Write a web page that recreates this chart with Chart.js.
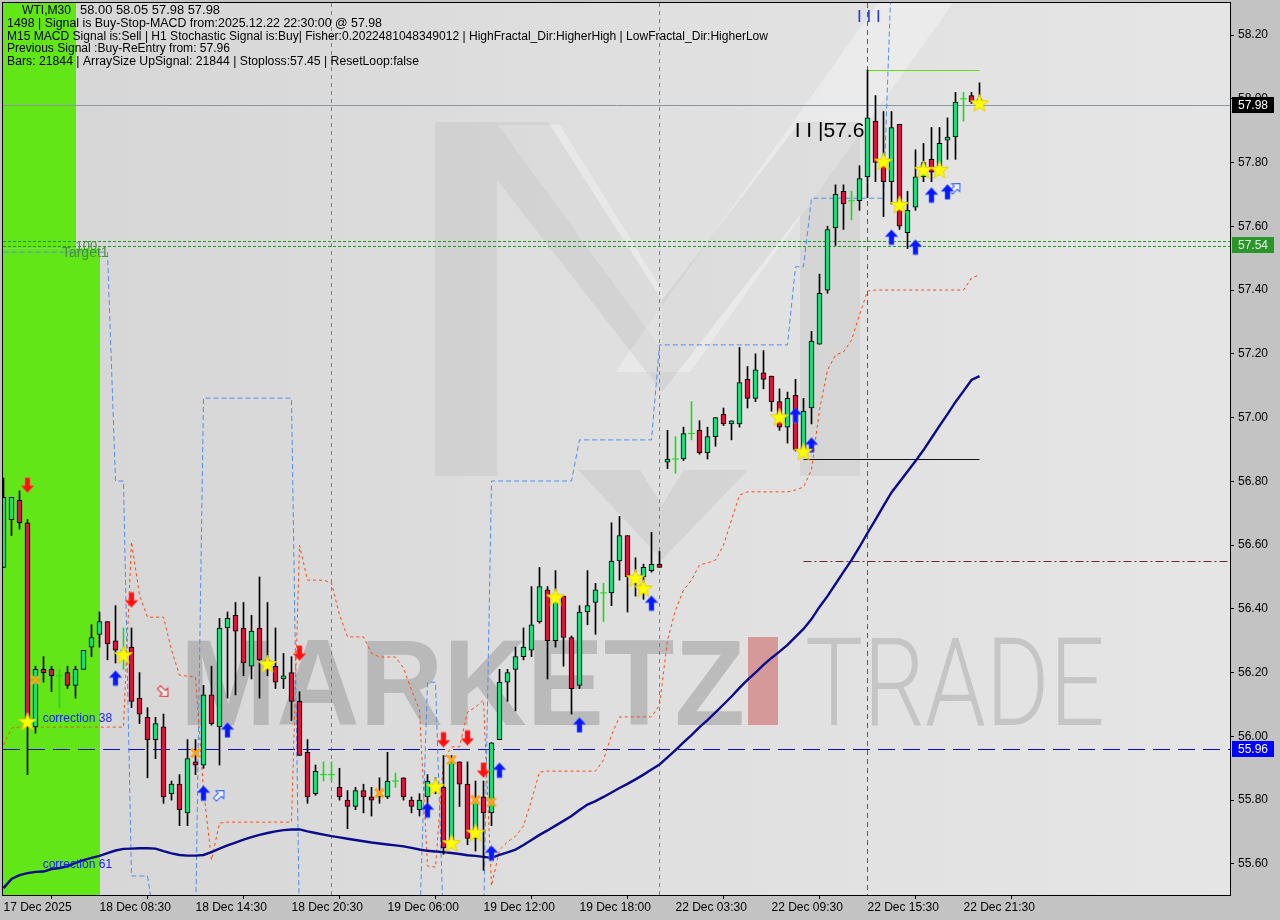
<!DOCTYPE html>
<html>
<head>
<meta charset="utf-8">
<title>WTI,M30</title>
<script src="https://cdn.jsdelivr.net/npm/chart.js@4.4.1/dist/chart.umd.min.js"></script>
<style>
  html, body { margin: 0; padding: 0; background: #c3c3c3; }
  canvas { display: block; }
</style>
</head>
<body>
<canvas id="chart" width="1280" height="920"></canvas>
<script>
// x axis: one tick every 12 bars (M30), labels as printed by the terminal
const xTickBars = [0, 12, 24, 36, 48, 60, 72, 84, 96, 108, 120];
const xTickLabels = ['17 Dec 2025', '18 Dec 08:30', '18 Dec 14:30', '18 Dec 20:30', '19 Dec 06:00',
  '19 Dec 12:00', '19 Dec 18:00', '22 Dec 03:30', '22 Dec 09:30', '22 Dec 15:30', '22 Dec 21:30'];
const yTicks = [55.60, 55.80, 56.00, 56.20, 56.40, 56.60, 56.80, 57.00, 57.20, 57.40, 57.60, 57.80, 58.00, 58.20];

// candles, bar 0 .. 122
const opens = [
  56.53, 56.68, 56.74, 56.67, 56.03, 56.21, 56.21, 56.19, 56.20, 56.16,
  56.21, 56.28, 56.32, 56.36, 56.30, 56.27, 56.28, 56.12, 56.06, 55.99,
  56.03, 55.82, 55.85, 55.76, 55.92, 55.91, 56.13, 56.03, 56.34, 56.38,
  56.34, 56.22, 56.34, 56.24, 56.22, 56.18, 56.20, 56.11, 55.95, 55.82,
  55.88, 55.88, 55.84, 55.80, 55.78, 55.83, 55.81, 55.81, 55.81, 55.86,
  55.87, 55.80, 55.77, 55.81, 55.85, 55.84, 55.675, 55.92, 55.85, 55.68,
  55.81, 55.76, 55.99, 56.17, 56.21, 56.25, 56.27, 56.36, 56.46, 56.30,
  56.44, 56.31, 56.16, 56.39, 56.42, 56.45, 56.45, 56.55, 56.63, 56.50,
  56.50, 56.52, 56.54, 56.86, 56.87, 56.87, 56.95, 56.96, 56.89, 56.94,
  57.01, 56.98, 56.98, 57.12, 57.06, 57.14, 57.13, 57.05, 56.97, 57.07,
  56.90, 57.03, 57.23, 57.40, 57.595, 57.71, 57.68, 57.68, 57.755, 57.93,
  57.80, 57.74, 57.92, 57.58, 57.66, 57.755, 57.81, 57.79, 57.87, 57.88,
  58.00, 58.01, 58.00];
const highs = [
  56.81, 56.75, 56.77, 56.68, 56.22, 56.25, 56.22, 56.21, 56.22, 56.22,
  56.27, 56.35, 56.39, 56.36, 56.41, 56.34, 56.34, 56.20, 56.09, 56.06,
  56.07, 55.86, 55.88, 55.99, 55.99, 56.16, 56.22, 56.37, 56.39, 56.42,
  56.42, 56.38, 56.50, 56.42, 56.34, 56.26, 56.25, 56.14, 55.99, 55.91,
  55.92, 55.92, 55.90, 55.83, 55.84, 55.85, 55.84, 55.87, 55.95, 55.885,
  55.87, 55.81, 55.82, 55.88, 55.87, 55.94, 55.94, 55.92, 55.92, 55.86,
  55.86, 55.98, 56.21, 56.21, 56.28, 56.34, 56.47, 56.53, 56.47, 56.52,
  56.44, 56.315, 56.41, 56.52, 56.48, 56.48, 56.67, 56.69, 56.63, 56.56,
  56.54, 56.64, 56.58, 56.96, 56.94, 56.97, 57.05, 56.99, 56.97, 57.00,
  57.03, 56.99, 57.22, 57.16, 57.20, 57.21, 57.13, 57.09, 57.08, 57.12,
  57.06, 57.27, 57.45, 57.60, 57.73, 57.73, 57.71, 57.79, 58.09, 58.01,
  57.96, 57.96, 57.92, 57.71, 57.84, 57.86, 57.91, 57.91, 57.94, 58.02,
  58.02, 58.02, 58.05];
const lows = [
  56.53, 56.63, 56.65, 55.88, 56.01, 56.17, 56.14, 56.09, 56.15, 56.12,
  56.21, 56.25, 56.28, 56.24, 56.23, 56.21, 56.09, 56.04, 55.87, 55.93,
  55.79, 55.80, 55.72, 55.72, 55.88, 55.90, 56.035, 55.91, 56.12, 56.13,
  56.19, 56.18, 56.12, 56.19, 56.15, 56.15, 56.05, 55.94, 55.79, 55.815,
  55.86, 55.86, 55.80, 55.71, 55.77, 55.76, 55.75, 55.79, 55.805, 55.84,
  55.80, 55.76, 55.75, 55.75, 55.82, 55.63, 55.66, 55.78, 55.66, 55.64,
  55.58, 55.72, 55.99, 56.11, 56.08, 56.24, 56.25, 56.355, 56.18, 56.28,
  56.22, 56.07, 56.15, 56.35, 56.32, 56.36, 56.41, 56.49, 56.39, 56.44,
  56.43, 56.515, 56.53, 56.84, 56.825, 56.865, 56.93, 56.885, 56.87, 56.91,
  56.975, 56.93, 56.97, 57.03, 57.05, 57.09, 57.02, 56.96, 56.92, 56.895,
  56.89, 56.98, 57.23, 57.39, 57.54, 57.59, 57.62, 57.65, 57.69, 57.74,
  57.63, 57.67, 57.59, 57.53, 57.65, 57.74, 57.74, 57.77, 57.81, 57.81,
  57.93, 57.985, 57.98];
const closes = [
  56.75, 56.75, 56.67, 56.03, 56.21, 56.20, 56.19, 56.19, 56.16, 56.21,
  56.27, 56.31, 56.36, 56.29, 56.27, 56.27, 56.11, 56.07, 55.99, 56.04,
  55.81, 55.85, 55.77, 55.93, 55.91, 56.13, 56.04, 56.34, 56.37, 56.33,
  56.23, 56.33, 56.24, 56.22, 56.17, 56.19, 56.11, 55.94, 55.81, 55.89,
  55.88, 55.88, 55.81, 55.78, 55.83, 55.81, 55.80, 55.82, 55.86, 55.86,
  55.81, 55.78, 55.80, 55.86, 55.84, 55.65, 55.92, 55.85, 55.68, 55.805,
  55.76, 55.98, 56.17, 56.20, 56.25, 56.28, 56.35, 56.47, 56.30, 56.43,
  56.31, 56.15, 56.39, 56.41, 56.46, 56.45, 56.55, 56.63, 56.50, 56.48,
  56.53, 56.54, 56.53, 56.87, 56.87, 56.95, 56.95, 56.89, 56.94, 57.00,
  56.98, 56.99, 57.11, 57.06, 57.15, 57.12, 57.05, 56.97, 57.06, 56.90,
  57.02, 57.24, 57.39, 57.59, 57.70, 57.67, 57.68, 57.75, 57.94, 57.80,
  57.74, 57.91, 57.60, 57.65, 57.755, 57.80, 57.77, 57.86, 57.88, 57.99,
  58.00, 57.99, 57.98];

// navy moving average
const maLine = [
  55.524, 55.553, 55.565, 55.571, 55.575, 55.576, 55.584, 55.587, 55.592, 55.603,
  55.612, 55.619, 55.625, 55.634, 55.642, 55.647, 55.648, 55.649, 55.649, 55.648,
  55.640, 55.633, 55.628, 55.626, 55.626, 55.628, 55.637, 55.648, 55.658, 55.667,
  55.676, 55.684, 55.691, 55.697, 55.702, 55.706, 55.708, 55.708, 55.702, 55.697,
  55.692, 55.687, 55.683, 55.679, 55.675, 55.671, 55.667, 55.664, 55.661, 55.658,
  55.655, 55.650, 55.645, 55.641, 55.639, 55.637, 55.634, 55.631, 55.627, 55.625,
  55.622, 55.619, 55.628, 55.636, 55.645, 55.659, 55.675, 55.691, 55.705, 55.720,
  55.735, 55.750, 55.769, 55.786, 55.797, 55.810, 55.824, 55.838, 55.851, 55.865,
  55.880, 55.896, 55.912, 55.934, 55.957, 55.981, 56.004, 56.029, 56.051, 56.075,
  56.100, 56.125, 56.152, 56.177, 56.200, 56.224, 56.246, 56.266, 56.287, 56.312,
  56.337, 56.368, 56.406, 56.440, 56.478, 56.516, 56.553, 56.594, 56.638, 56.680,
  56.723, 56.765, 56.798, 56.831, 56.864, 56.898, 56.936, 56.974, 57.011, 57.049,
  57.083, 57.118, 57.130];

// orange trailing stop (dotted)
const stopLine = [
  55.973, 56.026, 56.029, 56.029, 56.029, 56.029, 56.029, 56.029, 56.029, 56.029,
  56.029, 56.029, 56.029, 56.029, 56.029, 56.029, 56.610, 56.443, 56.374, 56.374,
  56.374, 56.271, 56.192, 56.189, 56.186, 55.832, 55.612, 55.728, 55.731, 55.731,
  55.731, 55.731, 55.731, 55.731, 55.731, 55.731, 55.731, 56.600, 56.490, 56.490,
  56.490, 56.481, 56.381, 56.312, 56.312, 56.312, 56.261, 56.249, 56.249, 56.249,
  56.214, 56.145, 56.083, 55.593, 55.590, 55.926, 55.967, 55.967, 56.076, 56.092,
  56.114, 55.531, 55.644, 55.669, 55.687, 55.719, 55.800, 55.888, 55.891, 55.891,
  55.891, 55.891, 55.891, 55.891, 55.891, 55.926, 56.004, 56.061, 56.061, 56.061,
  56.061, 56.061, 56.098, 56.302, 56.396, 56.459, 56.490, 56.538, 56.544, 56.553,
  56.600, 56.679, 56.757, 56.767, 56.767, 56.767, 56.767, 56.767, 56.767, 56.773,
  56.782, 56.836, 57.024, 57.149, 57.196, 57.206, 57.243, 57.322, 57.397, 57.400,
  57.400, 57.400, 57.400, 57.400, 57.400, 57.400, 57.400, 57.400, 57.400, 57.400,
  57.400, 57.438, 57.447];

// blue step channel (dashed)
const channelLine = [
  57.519, 57.519, 57.519, 57.519, 57.519, 57.519, 57.519, 57.519, 57.519, 57.519,
  57.519, 57.519, 57.519, 57.519, 56.801, 56.801, 55.562, 55.562, 55.562, 55.40,
  55.40, 55.40, 55.40, 55.40, 55.40, 57.061, 57.061, 57.061, 57.061, 57.061,
  57.061, 57.061, 57.061, 57.061, 57.061, 57.061, 57.061, 55.40, 55.40, 55.40,
  55.40, 55.40, 55.40, 55.40, 55.40, 55.40, 55.40, 55.40, 55.40, 55.40,
  55.40, 55.40, 55.40, 56.170, 56.170, 55.40, 55.40, 55.40, 55.40, 55.40,
  55.40, 56.801, 56.801, 56.801, 56.801, 56.801, 56.801, 56.801, 56.801, 56.801,
  56.801, 56.801, 56.930, 56.930, 56.930, 56.930, 56.930, 56.930, 56.930, 56.930,
  56.930, 56.930, 57.228, 57.228, 57.228, 57.228, 57.228, 57.228, 57.228, 57.228,
  57.228, 57.228, 57.228, 57.228, 57.228, 57.228, 57.228, 57.228, 57.228, 57.473,
  57.473, 57.688, 57.688, 57.688, 57.688, 57.688, 57.688, 57.688, 57.688, 57.688,
  57.688, 58.40, 58.40, 58.40, 58.40, 58.40, 58.40, 58.40, 58.40, 58.40,
  58.40, 58.40, 58.40];

// signal markers: bar index + price
const starBars = [3, 15, 33, 54, 56, 59, 69, 79, 80, 97, 100, 110, 112, 115, 117, 122];
const starPrices = [56.046, 56.255, 56.227, 55.842, 55.665, 55.698, 56.436, 56.496, 56.464, 57.001, 56.893, 57.803, 57.667, 57.777, 57.777, 57.986];
const buyBars = [14, 25, 28, 53, 61, 62, 72, 81, 99, 101, 111, 114, 116, 118];
const buyPrices = [56.183, 55.822, 56.020, 55.769, 55.634, 55.894, 56.036, 56.418, 57.008, 56.914, 57.566, 57.535, 57.698, 57.708];
const sellBars = [3, 16, 37, 55, 58, 60];
const sellPrices = [56.788, 56.428, 56.261, 55.989, 55.995, 55.894];
const reBuyBars = [27, 119];
const reBuyPrices = [55.816, 57.720];
const reSellBars = [20];
const reSellPrices = [56.140];
const exitBars = [4, 24, 47, 56, 59, 61];
const exitPrices = [56.177, 55.948, 55.822, 55.926, 55.800, 55.794];

// levels
const bidPrice = 57.98;
const targetLevels = [57.554, 57.538];
const correctionLevel = 55.96;
const pivotLevel = 56.55, pivotFrom = 100;
const fractalHigh = 58.09, fractalHighFrom = 108;
const fractalLow = 56.87, fractalLowFrom = 100;
const separatorBars = [41, 82];
const signalBar = 108;
const zoneSplitPrice = 57.53, zoneTopEnd = 9, zoneBottomEnd = 12;

const infoLines = [
  '1498 | Signal is Buy-Stop-MACD from:2025.12.22 22:30:00 @ 57.98',
  'M15 MACD Signal is:Sell | H1 Stochastic Signal is:Buy| Fisher:0.2022481048349012 | HighFractal_Dir:HigherHigh | LowFractal_Dir:HigherLow',
  'Previous Signal :Buy-ReEntry from: 57.96',
  'Bars: 21844 | ArraySize UpSignal: 21844 | Stoploss:57.45 | ResetLoop:false'
];

const FONT = '"Liberation Sans", Arial, sans-serif';
const bull = '#12e07a', bear = '#dc143c', dojiColor = '#22d822';

// small bitmap icons for the signal arrows and stars
function icon(w, h, paint) {
  const c = document.createElement('canvas');
  c.width = w; c.height = h;
  paint(c.getContext('2d'));
  return c;
}
function arrowPath(g) {
  g.beginPath();
  g.moveTo(0, -7.5); g.lineTo(6.5, -0.5); g.lineTo(2.5, -0.5); g.lineTo(2.5, 7.5);
  g.lineTo(-2.5, 7.5); g.lineTo(-2.5, -0.5); g.lineTo(-6.5, -0.5); g.closePath();
}
const upIcon = icon(15, 17, g => { g.translate(7.5, 8.5); arrowPath(g); g.fillStyle = '#0a18ff'; g.fill(); g.strokeStyle = 'rgba(90,120,255,0.6)'; g.stroke(); });
const downIcon = icon(15, 17, g => { g.translate(7.5, 8.5); g.rotate(Math.PI); arrowPath(g); g.fillStyle = '#ff1010'; g.fill(); g.strokeStyle = 'rgba(255,90,90,0.6)'; g.stroke(); });
const reUpIcon = icon(18, 18, g => { g.translate(9, 9); g.rotate(Math.PI / 4); g.scale(0.85, 0.85); arrowPath(g); g.fillStyle = '#f4f4ff'; g.fill(); g.strokeStyle = '#2a5cff'; g.lineWidth = 1.2; g.stroke(); });
const reDownIcon = icon(18, 18, g => { g.translate(9, 9); g.rotate(Math.PI * 0.75); g.scale(0.85, 0.85); arrowPath(g); g.fillStyle = '#fff4f4'; g.fill(); g.strokeStyle = '#e02020'; g.lineWidth = 1.2; g.stroke(); });
const starIcon = icon(20, 20, g => {
  g.beginPath();
  for (let k = 0; k < 10; k++) {
    const r = k % 2 ? 3.8 : 9.5, a = -Math.PI / 2 + k * Math.PI / 5;
    g.lineTo(10 + r * Math.cos(a), 10.5 + r * Math.sin(a));
  }
  g.closePath();
  g.fillStyle = '#ffff00'; g.fill();
  g.strokeStyle = '#e6cf00'; g.lineWidth = 1; g.stroke();
});

const bodyPts = [], wickPts = [], dojiPts = [];
opens.forEach((o, i) => {
  wickPts.push({ x: i, y: [lows[i], highs[i]] });
  if (o === closes[i]) dojiPts.push({ x: i, y: o });
  else bodyPts.push({ x: i, y: [o, closes[i]], up: closes[i] > o });
});
const asPts = arr => arr.map((v, i) => ({ x: i, y: v }));
const markPts = (bars, prices) => bars.map((b, k) => ({ x: b, y: prices[k] }));

function hLine(ctx, yy, x0, x1, color, dash, lw) {
  ctx.save();
  ctx.strokeStyle = color; ctx.lineWidth = lw || 1; ctx.setLineDash(dash || []);
  const yr = Math.round(yy) + 0.5;
  ctx.beginPath(); ctx.moveTo(x0, yr); ctx.lineTo(x1, yr); ctx.stroke();
  ctx.restore();
}
function vLine(ctx, xx, y0, y1, color, dash) {
  ctx.save();
  ctx.strokeStyle = color; ctx.lineWidth = 1; ctx.setLineDash(dash || []);
  const xr = Math.floor(xx) + 0.5;
  ctx.beginPath(); ctx.moveTo(xr, y0); ctx.lineTo(xr, y1); ctx.stroke();
  ctx.restore();
}
function poly(ctx, pts) {
  ctx.beginPath();
  pts.forEach((p, k) => k ? ctx.lineTo(p[0], p[1]) : ctx.moveTo(p[0], p[1]));
  ctx.closePath(); ctx.fill();
}
// stretch a text line to the width the terminal font gives it
function fitText(ctx, text, x0, y0, width) {
  const w = ctx.measureText(text).width;
  ctx.save();
  ctx.translate(x0, y0);
  ctx.scale(width / w, 1);
  ctx.fillText(text, 0, 0);
  ctx.restore();
}
// the terminal puts the plot flush with the window edge, so drop the label overhang padding
function noOverhang(s) { s.paddingTop = 0; s.paddingBottom = 0; s.paddingLeft = 0; s.paddingRight = 0; }

const terminalLook = {
  id: 'terminalLook',
  beforeDraw(chart) {
    const { ctx, chartArea: a } = chart;
    ctx.save();
    ctx.fillStyle = '#c3c3c3';
    ctx.fillRect(0, 0, chart.width, chart.height);
    const g = ctx.createLinearGradient(a.left, 0, a.right, 0);
    g.addColorStop(0, '#d5d5d5');
    g.addColorStop(0.55, '#e0e0e0');
    g.addColorStop(1, '#e5e5e5');
    ctx.fillStyle = g;
    ctx.fillRect(a.left, a.top, a.right - a.left, a.bottom - a.top);
    ctx.restore();
  },
  beforeDatasetsDraw(chart) {
    const { ctx, chartArea: a, scales: { x, y } } = chart;
    ctx.save();
    ctx.beginPath(); ctx.rect(a.left, a.top, a.right - a.left, a.bottom - a.top); ctx.clip();

    // watermark logo
    ctx.fillStyle = 'rgba(255,255,255,0.3)';
    poly(ctx, [[615, 372], [690, 372], [955, 0], [880, 0]]);
    poly(ctx, [[498, 125], [560, 125], [662, 290], [662, 350]]);
    ctx.fillStyle = 'rgba(150,150,150,0.15)';
    poly(ctx, [[435, 122], [548, 122], [662, 300], [662, 392], [497, 180], [497, 476], [435, 476]]);
    poly(ctx, [[662, 300], [800, 122], [860, 122], [860, 476], [800, 476], [800, 215], [662, 392]]);
    poly(ctx, [[578, 470], [640, 470], [662, 505], [684, 470], [748, 470], [662, 560]]);
    ctx.font = 'bold 123px ' + FONT;
    ctx.textBaseline = 'alphabetic';
    ctx.fillStyle = 'rgba(135,135,135,0.42)';
    ctx.fillText('MARKETZ', 180, 725, 565);
    ctx.fillStyle = 'rgba(205,105,105,0.6)';
    ctx.fillRect(748, 637, 30, 88);
    ctx.font = '300 123px Roboto, ' + FONT;
    ctx.fillStyle = 'rgba(150,150,150,0.38)';
    ctx.fillText('TRADE', 805, 725, 300);

    // green target zone
    ctx.fillStyle = '#63e618';
    const ys = y.getPixelForValue(zoneSplitPrice);
    ctx.fillRect(a.left, a.top, Math.round(x.getPixelForValue(zoneTopEnd)) - a.left, ys - a.top);
    ctx.fillRect(a.left, ys, Math.round(x.getPixelForValue(zoneBottomEnd)) - a.left, a.bottom - ys);

    // separators and levels
    separatorBars.forEach(b => vLine(ctx, x.getPixelForValue(b), a.top, a.bottom, '#808080', [4, 4]));
    vLine(ctx, x.getPixelForValue(signalBar), a.top, a.bottom, '#c8207a', [5, 4]);
    hLine(ctx, y.getPixelForValue(bidPrice), a.left, a.right, '#8896a6');
    targetLevels.forEach(v => hLine(ctx, y.getPixelForValue(v), a.left, a.right, '#1e9a1e', [3, 2]));
    hLine(ctx, y.getPixelForValue(correctionLevel), a.left, a.right, '#0a0ac8', [17, 8]);
    hLine(ctx, y.getPixelForValue(pivotLevel), x.getPixelForValue(pivotFrom), a.right, '#6a2a2a', [8, 3, 2, 3]);
    hLine(ctx, y.getPixelForValue(fractalHigh), x.getPixelForValue(fractalHighFrom), x.getPixelForValue(opens.length - 1), '#66dd11');
    hLine(ctx, y.getPixelForValue(fractalLow), x.getPixelForValue(fractalLowFrom), x.getPixelForValue(opens.length - 1), '#111111');
    ctx.restore();
  },
  afterDatasetsDraw(chart) {
    const { ctx, scales: { x, y } } = chart;
    ctx.save();
    ctx.textBaseline = 'middle';
    ctx.fillStyle = '#000';
    ctx.font = '12.5px ' + FONT;
    fitText(ctx, 'WTI,M30', 22, 11, 49);
    fitText(ctx, '58.00 58.05 57.98 57.98', 80, 11, 140);
    const widths = [375, 761, 223, 412];
    infoLines.forEach((t, k) => fitText(ctx, t, 7, 24 + k * 12.4, widths[k]));

    ctx.fillStyle = '#1a22ff';
    ctx.font = '12px ' + FONT;
    ctx.fillText('correction 38', x.getPixelForValue(4.9), y.getPixelForValue(56.054));
    ctx.fillText('correction 61', x.getPixelForValue(4.9), y.getPixelForValue(55.596));

    ctx.fillStyle = '#4a9040';
    ctx.font = '13px ' + FONT;
    ctx.fillText('100', x.getPixelForValue(9), y.getPixelForValue(57.54) + 1);
    ctx.font = '14px ' + FONT;
    ctx.fillText('Target1', x.getPixelForValue(7.3), y.getPixelForValue(57.52) + 1);

    ctx.fillStyle = '#000';
    ctx.font = '21px ' + FONT;
    ctx.fillText('I I |57.6', x.getPixelForValue(98.9), y.getPixelForValue(57.898));
    ctx.fillStyle = '#2036e8';
    ctx.font = '17px ' + FONT;
    ctx.fillText('I I I', x.getPixelForValue(106.7), 17);
    ctx.restore();
  },
  afterDraw(chart) {
    const { ctx, chartArea: a, scales: { y } } = chart;
    ctx.save();
    ctx.strokeStyle = '#000';
    ctx.lineWidth = 1;
    ctx.strokeRect(a.left - 0.5, a.top - 0.5, a.right - a.left + 1, a.bottom - a.top + 1);
    const tag = (v, text, bg, fg) => {
      const yy = Math.round(y.getPixelForValue(v));
      ctx.fillStyle = bg;
      ctx.fillRect(a.right + 2, yy - 8, 42, 16);
      ctx.fillStyle = fg;
      ctx.font = '12px ' + FONT;
      ctx.textBaseline = 'middle';
      ctx.fillText(text, a.right + 8, yy + 1);
    };
    tag(bidPrice, '57.98', '#000000', '#ffffff');
    tag(57.54, '57.54', '#2a962a', '#e8f0e8');
    tag(correctionLevel, '55.96', '#0000ff', '#ffffff');
    ctx.restore();
  }
};

const xMin = -0.0625;
new Chart(document.getElementById('chart'), {
  type: 'bar',
  data: {
    datasets: [
      { type: 'scatter', data: markPts(starBars, starPrices), pointStyle: starIcon, pointRadius: 6, order: 0 },
      { type: 'scatter', data: markPts(buyBars, buyPrices), pointStyle: upIcon, pointRadius: 6, order: 0 },
      { type: 'scatter', data: markPts(sellBars, sellPrices), pointStyle: downIcon, pointRadius: 6, order: 0 },
      { type: 'scatter', data: markPts(reBuyBars, reBuyPrices), pointStyle: reUpIcon, pointRadius: 6, order: 0 },
      { type: 'scatter', data: markPts(reSellBars, reSellPrices), pointStyle: reDownIcon, pointRadius: 6, order: 0 },
      { type: 'scatter', data: markPts(exitBars, exitPrices), pointStyle: 'crossRot', pointRadius: 6,
        borderColor: '#ffa41a', backgroundColor: '#ffa41a', borderWidth: 3, order: 0 },
      { type: 'scatter', data: dojiPts, pointStyle: 'line', pointRadius: 3.5,
        borderColor: dojiColor, borderWidth: 1, order: 1 },
      { data: bodyPts, barThickness: 5, borderWidth: 1, borderColor: '#000', borderSkipped: false,
        backgroundColor: c => (c.raw && c.raw.up ? bull : bear), grouped: false, order: 1 },
      { data: wickPts, barThickness: 1, borderWidth: 0,
        backgroundColor: c => (opens[c.dataIndex] === closes[c.dataIndex] ? dojiColor : '#000'),
        grouped: false, order: 2 },
      { type: 'line', data: asPts(maLine), borderColor: '#0a0a8c', borderWidth: 2.4, pointRadius: 0, order: 3 },
      { type: 'line', data: asPts(stopLine), borderColor: '#ff4a10', borderWidth: 1, borderDash: [3, 3], pointRadius: 0, order: 4 },
      { type: 'line', data: asPts(channelLine), borderColor: '#4d8ef0', borderWidth: 1, borderDash: [5, 3], pointRadius: 0, order: 5 }
    ]
  },
  options: {
    responsive: false,
    animation: false,
    events: [],
    layout: { autoPadding: false, padding: { left: 3, top: 3, right: 0, bottom: 0 } },
    plugins: { legend: { display: false }, tooltip: { enabled: false } },
    scales: {
      x: {
        type: 'linear',
        offset: false,
        min: xMin,
        max: xMin + 1227 / 8,
        afterBuildTicks: s => { s.ticks = xTickBars.map(v => ({ value: v })); },
        afterFit: s => { s.height = 25; noOverhang(s); },
        grid: { drawOnChartArea: false, drawTicks: true, tickLength: 4, color: '#000' },
        border: { display: true, color: '#000' },
        ticks: {
          align: 'start', padding: 1, maxRotation: 0, autoSkip: false, color: '#000',
          font: { family: FONT, size: 12 },
          callback: v => xTickLabels[xTickBars.indexOf(v)] || ''
        }
      },
      y: {
        type: 'linear',
        position: 'right',
        min: 55.5024,
        max: 58.3004,
        afterBuildTicks: s => { s.ticks = yTicks.map(v => ({ value: v })); },
        afterFit: s => { s.width = 50; noOverhang(s); },
        grid: { drawOnChartArea: false, drawTicks: true, tickLength: 4, color: '#000' },
        border: { display: true, color: '#000' },
        ticks: {
          padding: 4, color: '#000', font: { family: FONT, size: 12 },
          callback: v => v.toFixed(2)
        }
      }
    }
  },
  plugins: [terminalLook]
});
</script>
</body>
</html>
